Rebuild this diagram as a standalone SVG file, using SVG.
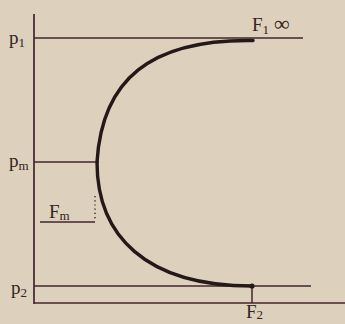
<svg xmlns="http://www.w3.org/2000/svg" width="345" height="324" viewBox="0 0 345 324">
<style>
.ax{stroke:#43262e;stroke-width:1.7;fill:none}
.ln{stroke:#43262e;stroke-width:1.5;fill:none}
.cv{stroke:#241818;stroke-width:3.4;fill:none;stroke-linecap:round}
.lb{font-family:"Liberation Serif",serif;font-size:19px;fill:#332424}
.sb{font-size:13px}
</style>
<rect width="345" height="324" fill="#ddd0bc"/>
<g id="axes">
<line class="ax" x1="34" y1="14" x2="34" y2="304"/>
<line class="ax" x1="34" y1="303" x2="345" y2="303"/>
</g>
<g id="p1">
<line class="ln" x1="34" y1="38" x2="303" y2="38"/>
<text class="lb" x="9" y="44">p<tspan class="sb" dy="3">1</tspan></text>
</g>
<g id="pm">
<line class="ln" x1="34" y1="162" x2="99" y2="162"/>
<text class="lb" x="9" y="167">p<tspan class="sb" dy="3">m</tspan></text>
</g>
<g id="Fm">
<line class="ln" x1="40" y1="222" x2="95" y2="222"/>
<line class="ln" x1="95" y1="196" x2="95" y2="220" stroke-dasharray="1.2 3"/>
<text class="lb" x="49" y="218">F<tspan class="sb" dy="2">m</tspan></text>
</g>
<g id="p2">
<line class="ln" x1="34" y1="286" x2="311" y2="286"/>
<text class="lb" x="11" y="294">p<tspan class="sb" dy="3">2</tspan></text>
</g>
<g id="F1">
<text class="lb" x="252" y="31">F<tspan class="sb" dy="3">1</tspan><tspan dy="-3" dx="5" font-size="22">∞</tspan></text>
</g>
<g id="F2">
<line class="ln" x1="252" y1="286" x2="252" y2="303"/>
<circle cx="252" cy="286" r="2.6" fill="#241818"/>
<text class="lb" x="246" y="318">F<tspan class="sb" dy="1">2</tspan></text>
</g>
<g id="connectors">
<path class="cv" d="M253,40.5 C150,39 102,80 97,162 C97,235 145,286 252,286"/>
</g>
</svg>
